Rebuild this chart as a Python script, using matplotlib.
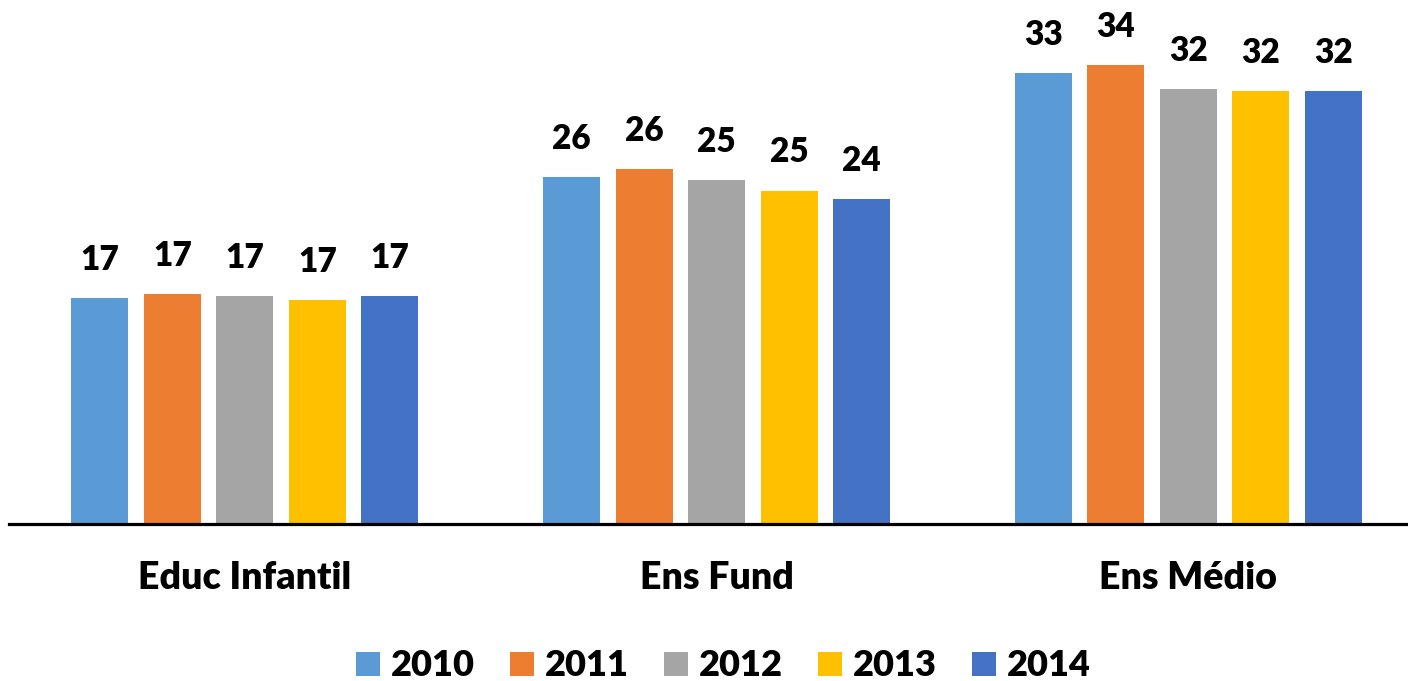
import matplotlib
matplotlib.use("Agg")
import matplotlib.pyplot as plt
from matplotlib.patches import Patch
import numpy as np

categories = ["Educ Infantil", "Ens Fund", "Ens Médio"]
years = ["2010", "2011", "2012", "2013", "2014"]
values = {
    "2010": [16.7, 25.7, 33.45],
    "2011": [17.0, 26.3, 34.0],
    "2012": [16.9, 25.45, 32.25],
    "2013": [16.55, 24.7, 32.1],
    "2014": [16.9, 24.1, 32.1],
}
colors = ["#5B9BD5", "#ED7D31", "#A5A5A5", "#FFC000", "#4472C4"]

plt.rcParams["font.family"] = ["Lato", "DejaVu Sans"]
WEIGHT = "heavy"

W, H = 1408, 681
fig = plt.figure(figsize=(W / 100, H / 100), dpi=100)
ax_left, ax_bottom = 9, H - 523.5
ax = fig.add_axes([ax_left / W, ax_bottom / H, (W - ax_left) / W, 1 - ax_bottom / H])

group_px = 471.7
x = np.arange(len(categories))
width = 57 / group_px
step = 72.5 / group_px

for i, (yr, c) in enumerate(zip(years, colors)):
    xs = x + (i - 2) * step
    ax.bar(xs, values[yr], width=width, color=c, zorder=2)
    for xi, v in zip(xs, values[yr]):
        ax.annotate(f"{v:.0f}", xy=(xi, v), xytext=(0, 20.2), textcoords="offset points",
                    ha="center", va="baseline", fontsize=24, fontweight=WEIGHT, color="black")

for xi, cat in zip(x, categories):
    ax.annotate(cat, xy=(xi, 0), xycoords=("data", "axes fraction"), xytext=(0, -47.5),
                textcoords="offset points", ha="center", va="baseline",
                fontsize=27, fontweight=WEIGHT, color="black")

ax.set_xlim(-0.5, -0.5 + (W - ax_left) / group_px)
px_per_unit = 13.48
ax.set_ylim(0, (H - ax_bottom) / px_per_unit)

for s in ["top", "right", "left"]:
    ax.spines[s].set_visible(False)
ax.spines["bottom"].set_linewidth(2.3)
ax.spines["bottom"].set_color("black")
ax.spines["bottom"].set_zorder(3)
ax.set_xticks([])
ax.set_yticks([])

handles = [Patch(facecolor=c, edgecolor="none", label=yr) for yr, c in zip(years, colors)]
fs = 26
fpx = fs * 100 / 72
fig.legend(handles=handles, loc="center", bbox_to_anchor=(723.5 / W, 1 - 666 / H),
           ncol=5, frameon=False, prop={"size": fs, "weight": WEIGHT},
           handlelength=24 / fpx, handleheight=24 / fpx, handletextpad=11 / fpx,
           columnspacing=35 / fpx, borderaxespad=0, borderpad=0)

fig.savefig("out.png", dpi=100)
